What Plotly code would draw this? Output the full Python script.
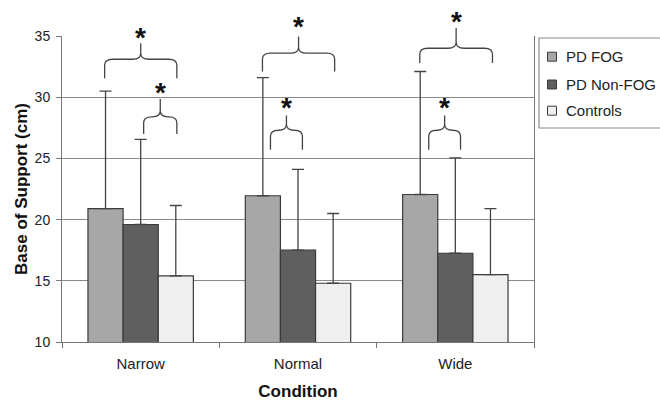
import plotly.graph_objects as go

# ---- data ----
categories = ["Narrow", "Normal", "Wide"]
series_names = ["PD FOG", "PD Non-FOG", "Controls"]
pd_fog = [20.9, 21.95, 22.05]
pd_nonfog = [19.6, 17.5, 17.25]
controls = [15.4, 14.8, 15.5]
pd_fog_sd = [9.6, 9.65, 10.05]
pd_nonfog_sd = [6.95, 6.6, 7.8]
controls_sd = [5.75, 5.7, 5.4]

colors = ["#a7a7a7", "#5f5f5f", "#efefef"]
YMIN, YMAX = 10, 35
BARGAP = 0.33

fig = go.Figure()
for name, vals, sd, col in zip(series_names, [pd_fog, pd_nonfog, controls],
                                [pd_fog_sd, pd_nonfog_sd, controls_sd], colors):
    fig.add_trace(go.Bar(
        x=categories, y=vals, name=name, showlegend=False,
        marker=dict(color=col, line=dict(color="#3a3a3a", width=1.2)),
        error_y=dict(type="data", array=sd, arrayminus=[0] * len(sd), symmetric=False,
                     color="#444444", thickness=1.3, width=6),
    ))

# ---- significance braces (paper coords derived from category positions) ----
# (category index, left offset, right offset, end y, bar y, tip y, star y)
braces = [
    (0, -0.229, 0.230, 31.54, 33.1, 34.4, 35.4),
    (0, 0.019, 0.230, 27.0, 28.4, 29.85, 30.9),
    (1, -0.226, 0.233, 32.1, 33.6, 34.95, 36.3),
    (1, -0.175, 0.028, 25.7, 27.3, 28.5, 29.65),
    (2, -0.226, 0.236, 32.8, 34.0, 35.65, 36.65),
    (2, -0.169, 0.033, 25.7, 27.3, 28.5, 29.65),
]
L, R, T, B = 62, 126, 36, 59
W, H = 660, 401
pw, ph = W - L - R, H - T - B
ncat = len(categories)

def xp(i, off):
    return (i + off + 0.5) / ncat

def yp(v):
    return (v - YMIN) / (YMAX - YMIN)

rh = 8 / pw
rv = 6 / ph
for (i, a, b, ye, ym, yt, ys) in braces:
    x0, x1 = xp(i, a), xp(i, b)
    xm = (x0 + x1) / 2
    e, m, t = yp(ye), yp(ym), yp(yt)
    path = (f"M{x0},{e} L{x0},{m - rv} Q{x0},{m} {x0 + rh},{m} "
            f"L{xm - rh},{m} Q{xm},{m} {xm},{m + rv} L{xm},{t} "
            f"L{xm},{m + rv} Q{xm},{m} {xm + rh},{m} "
            f"L{x1 - rh},{m} Q{x1},{m} {x1},{m - rv} L{x1},{e}")
    fig.add_shape(type="path", path=path, xref="paper", yref="paper",
                  line=dict(color="#444444", width=1.3))
    fig.add_annotation(x=xm, y=yp(ys), xref="paper", yref="paper", text="<b>*</b>",
                       showarrow=False, font=dict(size=28, color="#111111",
                                                  family="Liberation Sans"),
                       yanchor="middle", xanchor="center", yshift=-6)

# ---- manual legend (box partly beyond the right edge like the reference) ----
def px2x(px):
    return (px - L) / pw

def py2y(py):
    return (H - B - py) / ph

fig.add_shape(type="rect", xref="paper", yref="paper",
              x0=px2x(539), x1=px2x(668), y0=py2y(128), y1=py2y(38),
              line=dict(color="#8a8a8a", width=1.2), fillcolor="white")
for k, (name, col) in enumerate(zip(series_names, colors)):
    cy = [56.7, 84.5, 110.7][k]
    fig.add_shape(type="rect", xref="paper", yref="paper",
                  x0=px2x(547.5), x1=px2x(556.5), y0=py2y(cy + 4.5), y1=py2y(cy - 4.5),
                  line=dict(color="#3a3a3a", width=1), fillcolor=col)
    fig.add_annotation(x=px2x(564), y=py2y(cy), xref="paper", yref="paper", text=name,
                       showarrow=False, xanchor="left", yanchor="middle",
                       font=dict(size=15, color="#222222", family="Liberation Sans"))

fig.update_layout(
    width=W, height=H, margin=dict(l=L, r=R, t=T, b=B, autoexpand=False),
    paper_bgcolor="white", plot_bgcolor="white",
    barmode="group", bargap=BARGAP, bargroupgap=0,
    font=dict(family="Liberation Sans", color="#222222"),
)
fig.update_xaxes(
    type="category", tickson="boundaries", ticks="outside", ticklen=5, tickcolor="#777777",
    showline=True, linecolor="#777777", linewidth=1, showgrid=False,
    tickfont=dict(size=15, color="#222222"), ticklabelstandoff=8,
    title=dict(text="<b>Condition</b>", font=dict(size=17, color="#111111"), standoff=15),
)
fig.update_yaxes(
    range=[YMIN, YMAX], tickvals=[10, 15, 20, 25, 30, 35], ticks="outside", ticklen=5,
    tickcolor="#777777", showline=True, linecolor="#777777", linewidth=1, mirror=True,
    showgrid=True, gridcolor="#8a8a8a", gridwidth=1, zeroline=False,
    tickfont=dict(size=14, color="#222222"), ticklabelstandoff=3,
    title=dict(text="<b>Base of Support (cm)</b>", font=dict(size=17, color="#111111"), standoff=2),
)

fig.write_html(
    "out.html",
    config={"displayModeBar": False},
    post_script="document.documentElement.style.overflow='hidden';"
                "document.body.style.margin='0';document.body.style.overflow='hidden';",
)
